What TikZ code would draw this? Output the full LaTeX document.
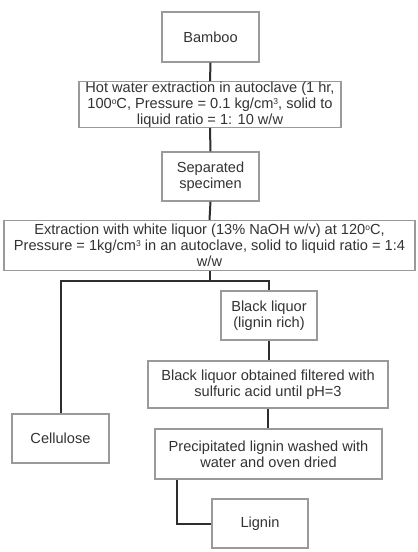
\documentclass[tikz,border=0pt]{standalone}
\usepackage{fontspec}
\setmainfont{Liberation Sans}
\usetikzlibrary{calc}
\definecolor{txt}{HTML}{333333}
\definecolor{bord}{HTML}{9A9A9A}
\definecolor{conn}{HTML}{2E2E2E}
\newcommand{\sps}[1]{\raisebox{0.55ex}{\fontsize{8.5}{9}\selectfont #1}}
\tikzset{
  box/.style={draw=bord, line width=1.1pt, fill=white, inner sep=0pt, align=center,
    text=txt, font=\fontsize{14.6}{16}\selectfont},
  link/.style={draw=conn, line width=2pt, line join=miter}
}
\begin{document}
\begin{tikzpicture}[x=1pt,y=-1pt]
\fill[white] (0,0) rectangle (418,552);
\useasboundingbox (0,0) rectangle (418,552);
\node[box, minimum width=97pt, minimum height=50pt] (bamboo) at (210.5,37) {Bamboo};
\node[box, minimum width=262pt, minimum height=45pt] (hot) at (210,104.5)
  {Hot water extraction in autoclave (1 hr,\\100\sps{o}C, Pressure = 0.1 kg/cm\sps{3}, solid to\\liquid ratio = 1: 10 w/w};
\node[box, minimum width=97pt, minimum height=49pt] (sep) at (210.5,176.5) {Separated\\specimen};
\node[box, minimum width=411pt, minimum height=50pt] (ext) at (209.5,245.5)
  {Extraction with white liquor (13\% NaOH w/v) at 120\sps{o}C,\\Pressure = 1kg/cm\sps{3} in an autoclave, solid to liquid ratio = 1:4\\w/w};
\node[box, minimum width=96pt, minimum height=49pt] (black) at (269,315.5) {Black liquor\\(lignin rich)};
\node[box, minimum width=240pt, minimum height=47pt] (filt) at (268,384.5)
  {Black liquor obtained filtered with\\sulfuric acid until pH=3};
\node[box, minimum width=227pt, minimum height=50pt] (prec) at (268.5,454)
  {Precipitated lignin washed with\\water and oven dried};
\node[box, minimum width=96pt, minimum height=49pt] (lignin) at (260,523.5) {Lignin};
\node[box, minimum width=97pt, minimum height=49pt] (cell) at (60.5,438.5) {Cellulose};
\coordinate (j) at (209.5,280.5);
\coordinate (pl) at ($(prec.south west)+(23,0)$);
\draw[link] (bamboo.south) -- (hot.north);
\draw[link] (hot.south) -- (sep.north);
\draw[link] (sep.south) -- (ext.north);
\draw[link] (ext.south) -- (j);
\draw[link] (cell.north) |- (j) -| (black.north);
\draw[link] (black.south) -- (black.south |- filt.north);
\draw[link] (filt.south) -- (filt.south |- prec.north);
\draw[link] (pl) |- (lignin.west);
\end{tikzpicture}
\end{document}
